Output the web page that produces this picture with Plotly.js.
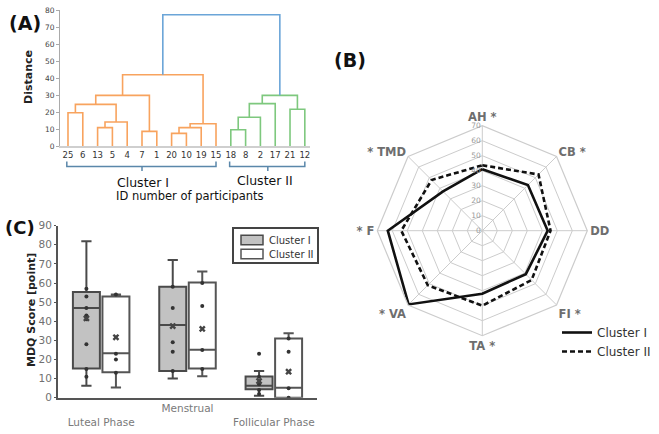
<!DOCTYPE html>
<html><head><meta charset="utf-8">
<script src="https://cdn.plot.ly/plotly-3.0.1.min.js"></script>
<style>html,body{margin:0;padding:0;background:#fff}#chart{width:659px;height:434px}</style>
</head><body><div id="chart"></div>
<script>
// ---------- (A) dendrogram data ----------
const leafLabels = ['25','6','13','5','4','7','1','20','10','19','15','18','8','2','17','21','12'];
const leafCluster = ['I','I','I','I','I','I','I','I','I','I','I','II','II','II','II','II','II'];
// merges: [childA, childB, distance]; node ids >= 17 are earlier merges (17 + row index)
const mergeA = [0, 2, 18, 17, 5, 20, 7, 23, 24, 22, 11, 27, 28, 15, 29, 26];
const mergeB = [1, 3, 4, 19, 6, 21, 8, 9, 10, 25, 12, 13, 14, 16, 30, 31];
const mergeDist = [19.6, 10.8, 14.1, 24.5, 8.6, 29.8, 7.4, 10.8, 13.1, 41.9, 9.6, 16.9, 24.9, 21.6, 29.8, 77.2];
const clusterNames = ['Cluster I', 'Cluster II'];

// ---------- (B) radar data ----------
const radarAxes = ['AH','CB','DD','FI','TA','VA','F','TMD'];
const radarLabels = ['AH *','CB *','DD','FI *','TA *','* VA','* F','* TMD'];
const radarC1 = [41, 43, 43.6, 41, 42, 69.5, 63, 37];
const radarC2 = [43.6, 53, 45.5, 46.5, 50, 51.4, 54, 47.8];
const radarTicks = [0,10,20,30,40,50,60,70];

// ---------- (C) box plot data ----------
const phases = ['Luteal Phase', 'Menstrual', 'Follicular Phase'];
const c1Q1 = [15.3, 14, 4.4];
const c1Median = [47, 38, 6.3];
const c1Q3 = [55.3, 58, 11.1];
const c1Low = [6.3, 10, 1];
const c1High = [81.8, 72, 14];
const c1Mean = [41.5, 37.5, 8.7];
const c1Points = [[57, 53, 47, 43, 41, 28, 15, 11], [58, 47, 29, 24, 14], [23, 11, 7, 4, 2]];
const c2Q1 = [13.3, 15.3, 0];
const c2Median = [23.2, 25.1, 5.2];
const c2Q3 = [53, 60.3, 31];
const c2Low = [5.4, 11.2, 0];
const c2High = [54, 66, 33.7];
const c2Mean = [31.6, 36, 13.6];
const c2Points = [[54, 23, 20, 13], [60, 48, 25, 15], [31, 24, 5, 0]];

const W = 659, H = 434;
const px = v => v / W, py = v => 1 - v / H;
const FONT = 'DejaVu Sans';

// ---------- build dendrogram links ----------
const nLeaf = leafLabels.length;
const nodeX = [], nodeH = [], nodeC = [];
for (let i = 0; i < nLeaf; i++) { nodeX.push(i); nodeH.push(0); nodeC.push(leafCluster[i]); }
const linkSets = { 'I': {x: [], y: []}, 'II': {x: [], y: []}, 'root': {x: [], y: []} };
for (let k = 0; k < mergeA.length; k++) {
  const a = mergeA[k], b = mergeB[k], d = mergeDist[k];
  const c = (nodeC[a] === nodeC[b]) ? nodeC[a] : 'root';
  const s = linkSets[c];
  s.x.push(nodeX[a], nodeX[a], nodeX[b], nodeX[b], null);
  s.y.push(nodeH[a], d, d, nodeH[b], null);
  nodeX.push((nodeX[a] + nodeX[b]) / 2); nodeH.push(d); nodeC.push(c);
}
const linkColors = { 'I': '#f8a35e', 'II': '#7ec87e', 'root': '#6ba5d8' };
const traces = [];
for (const key of ['I', 'II', 'root']) {
  traces.push({ type: 'scatter', mode: 'lines', x: linkSets[key].x, y: linkSets[key].y,
    xaxis: 'x', yaxis: 'y', line: { color: linkColors[key], width: 1.6 }, showlegend: false, hoverinfo: 'skip' });
}

// ---------- radar ----------
const closeLoop = arr => arr.concat([arr[0]]);
traces.push({ type: 'scatterpolar', r: closeLoop(radarC1), theta: closeLoop(radarAxes), mode: 'lines',
  name: clusterNames[0], line: { color: '#111', width: 2.6 }, subplot: 'polar' });
traces.push({ type: 'scatterpolar', r: closeLoop(radarC2), theta: closeLoop(radarAxes), mode: 'lines',
  name: clusterNames[1], line: { color: '#111', width: 2.6, dash: '5px,3px' }, subplot: 'polar' });

// ---------- box plot ----------
const centers = phases.map((p, i) => i + 0.5);
const OFF = 0.171, BW = 0.3125;
const x1 = centers.map(c => c - OFF), x2 = centers.map(c => c + OFF);
const boxFill = ['#c2c2c2', '#ffffff'], boxLine = ['#4a4a4a', '#555555'];
traces.push({ type: 'box', name: clusterNames[0], x: x1, q1: c1Q1, median: c1Median, q3: c1Q3,
  lowerfence: c1Low, upperfence: c1High, width: BW, boxpoints: false, whiskerwidth: 0.38, showlegend: false,
  fillcolor: boxFill[0], line: { color: boxLine[0], width: 2 }, xaxis: 'x3', yaxis: 'y3', hoverinfo: 'skip' });
traces.push({ type: 'box', name: clusterNames[1], x: x2, q1: c2Q1, median: c2Median, q3: c2Q3,
  lowerfence: c2Low, upperfence: c2High, width: BW, boxpoints: false, whiskerwidth: 0.38, showlegend: false,
  fillcolor: boxFill[1], line: { color: boxLine[1], width: 2 }, xaxis: 'x3', yaxis: 'y3', hoverinfo: 'skip' });
function pointTrace(xs, pts) {
  const X = [], Y = [];
  pts.forEach((arr, i) => arr.forEach(v => { X.push(xs[i]); Y.push(v); }));
  return { type: 'scatter', mode: 'markers', x: X, y: Y, xaxis: 'x3', yaxis: 'y3', showlegend: false,
    marker: { color: '#333', size: 4 }, hoverinfo: 'skip' };
}
traces.push(pointTrace(x1, c1Points));
traces.push(pointTrace(x2, c2Points));
traces.push({ type: 'scatter', mode: 'markers', x: x1.concat(x2), y: c1Mean.concat(c2Mean), xaxis: 'x3', yaxis: 'y3',
  showlegend: false, marker: { symbol: 'x', color: '#444', size: 6 }, hoverinfo: 'skip' });

// ---------- brackets ----------
function bracketPath(cl) {
  const idx = leafCluster.map((c, i) => c === cl ? i : -1).filter(i => i >= 0);
  const a = idx[0], b = idx[idx.length - 1], m = (a + b) / 2;
  const yt = py(161.5), ym = py(166.5), yb = py(171);
  return `M${a - 0.08},${yt} L${a - 0.08},${ym} L${b},${ym} L${b},${yt} M${m},${ym} L${m},${yb}`;
}
const shapes = ['I', 'II'].map(cl => ({ type: 'path', xref: 'x', yref: 'paper', path: bracketPath(cl),
  line: { color: '#5a87aa', width: 1.5 } }));

// ---------- box legend (C), drawn as a framed key ----------
shapes.push({ type: 'rect', xref: 'paper', yref: 'paper', x0: px(233), x1: px(318), y0: py(263), y1: py(228),
  line: { color: '#444', width: 2 }, fillcolor: '#fff', layer: 'above' });
[0, 1].forEach(i => {
  const yc = 240 + i * 14;
  shapes.push({ type: 'rect', xref: 'paper', yref: 'paper', x0: px(241), x1: px(263), y0: py(yc + 4.7), y1: py(yc - 4.7),
    line: { color: boxLine[i], width: 1.5 }, fillcolor: boxFill[i], layer: 'above' });
});

const ann = (text, x, y, size, opts) => Object.assign({ text, x: px(x), y: py(y), xref: 'paper', yref: 'paper',
  showarrow: false, xanchor: 'center', yanchor: 'middle', font: { family: FONT, size, color: '#222' } }, opts || {});

const annotations = [
  ann('<b>(A)</b>', 25, 23, 19, { font: { family: FONT, size: 19, color: '#111' } }),
  ann('<b>(B)</b>', 350, 60, 19, { font: { family: FONT, size: 19, color: '#111' } }),
  ann('<b>(C)</b>', 20, 228, 18, { font: { family: FONT, size: 18, color: '#111' } }),
  ann('<b>Distance</b>', 28, 77, 11, { textangle: -90, font: { family: FONT, size: 11, color: '#222' } }),
  ann(clusterNames[0], 143, 182, 12.5, { font: { family: FONT, size: 12.5, color: '#111' } }),
  ann(clusterNames[1], 265, 180, 12.5, { font: { family: FONT, size: 12.5, color: '#111' } }),
  ann('ID number of participants', 190, 196, 11.5, { font: { family: FONT, size: 11.5, color: '#111' } }),
  ann('<b>MDQ Score [point]</b>', 31, 310, 11, { textangle: -90, font: { family: FONT, size: 11, color: '#222' } })
];
[0, 1].forEach(i => annotations.push(ann(clusterNames[i], 267, 240 + i * 14, 10,
  { xanchor: 'left', font: { family: FONT, size: 10, color: '#333' } })));

const layout = {
  width: W, height: H, margin: { l: 0, r: 0, t: 0, b: 0 },
  paper_bgcolor: '#fff', plot_bgcolor: 'rgba(0,0,0,0)',
  font: { family: FONT, color: '#333' },
  xaxis: { domain: [px(60), px(310)], range: [-0.54, 16.35], tickmode: 'array', tickvals: leafLabels.map((l, i) => i),
    ticktext: leafLabels, showgrid: false, zeroline: false, showline: true, linecolor: '#cfcfcf', linewidth: 2,
    ticks: '', tickfont: { family: FONT, size: 8.5, color: '#333' }, anchor: 'y', fixedrange: true },
  yaxis: { domain: [py(146), py(10)], range: [0, 80], dtick: 10, showgrid: false, zeroline: false, showline: true,
    linecolor: '#aaa', linewidth: 1, ticks: 'outside', ticklen: 3, tickcolor: '#aaa',
    tickfont: { family: FONT, size: 7.5, color: '#444' }, anchor: 'x' },
  polar: {
    domain: { x: [px(482.3 - 105), px(482.3 + 105)], y: [py(230.7 + 105), py(230.7 - 105)] },
    gridshape: 'linear', bgcolor: 'rgba(0,0,0,0)',
    angularaxis: { direction: 'clockwise', rotation: 90, type: 'category', categoryorder: 'array', categoryarray: radarAxes,
      tickmode: 'array', tickvals: radarAxes, ticktext: radarLabels, gridcolor: '#cccccc', linecolor: '#cccccc', linewidth: 1.2,
      ticks: '', tickfont: { family: FONT, size: 11.5, color: '#6e6e6e', weight: 'bold' } },
    radialaxis: { range: [0, 70], tickvals: radarTicks, angle: 90, tickangle: 90, side: 'counterclockwise', showline: false,
      gridcolor: '#cccccc', ticks: '', tickfont: { family: FONT, size: 7.5, color: '#9a9a9a' } }
  },
  xaxis3: { domain: [px(58), px(317)], range: [0, 3], tickmode: 'array', tickvals: centers,
    ticktext: ['<br>' + phases[0], phases[1], '<br>' + phases[2]], showgrid: false, zeroline: false, showline: true,
    linecolor: '#555', linewidth: 2, ticks: '', tickfont: { family: FONT, size: 10.5, color: '#7a7a7a' }, anchor: 'y3' },
  yaxis3: { domain: [py(397.7), py(225.7)], range: [0, 90], dtick: 10, showgrid: false, zeroline: false, showline: true,
    linecolor: '#555', linewidth: 2, ticks: 'outside', ticklen: 2, tickcolor: '#555',
    tickfont: { family: FONT, size: 10.5, color: '#707070' }, anchor: 'x3' },
  boxmode: 'overlay',
  showlegend: true,
  legend: { x: px(557), y: py(318), xanchor: 'left', yanchor: 'top', bgcolor: 'rgba(0,0,0,0)', borderwidth: 0,
    font: { family: FONT, size: 12, color: '#333' }, itemwidth: 30 },
  shapes: shapes,
  annotations: annotations
};
Plotly.newPlot('chart', traces, layout, { displayModeBar: false, staticPlot: true });
</script></body></html>
